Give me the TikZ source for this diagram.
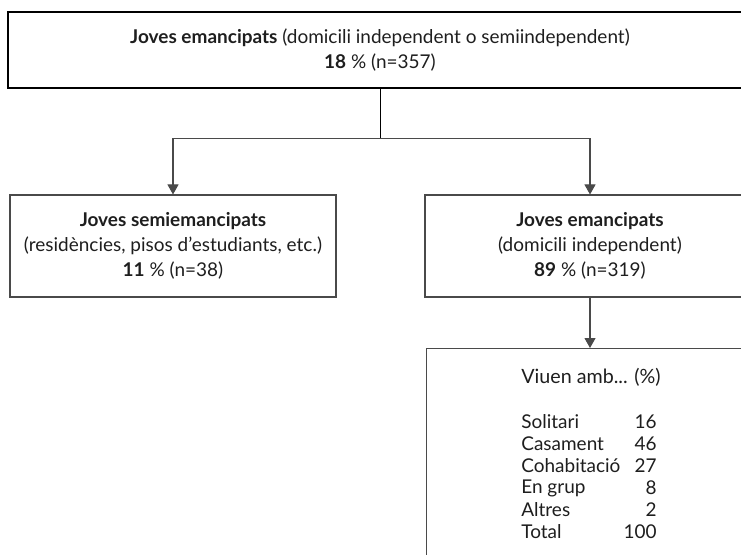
\documentclass[tikz,border=0pt]{standalone}
\usepackage{fontspec}
\setmainfont{Lato}
\usetikzlibrary{arrows.meta,positioning,calc}
\definecolor{boxgray}{HTML}{4A4A4A}
\definecolor{inkgray}{HTML}{1E1E1E}

\tikzset{
  mainbox/.style={draw=black, line width=1.1pt, minimum width=14.88cm, minimum height=1.52cm,
    align=center, inner sep=0pt, text=inkgray, font=\fontsize{10.8}{14.2}\selectfont},
  subbox/.style={draw=boxgray, line width=0.6pt, minimum height=2.04cm,
    align=center, inner sep=0pt, text=inkgray, font=\fontsize{10.8}{14.2}\selectfont},
  link/.style={draw=boxgray, line width=0.6pt},
  tip/.style={-{Triangle[width=0.22cm,length=0.2cm]}},
  cell/.style={inner sep=0pt, text=inkgray, font=\fontsize{10.8}{12}\selectfont},
}

\begin{document}
\begin{tikzpicture}
    \useasboundingbox (0, 0) rectangle (14.82, 11.08);

    % caixa principal
    \node[mainbox] (total) at (7.6, 10.08)
        {\textbf{Joves emancipats} (domicili independent o semiindependent)\\ \textbf{18} \% (n=357)};

    % dues branques
    \node[subbox, minimum width=6.52cm] (semi) at (3.46, 6.16)
        {\textbf{Joves semiemancipats}\\ (residències, pisos d'estudiants, etc.)\\ \textbf{11} \% (n=38)};
    \node[subbox, minimum width=6.6cm] (indep) at (11.8, 6.16)
        {\textbf{Joves emancipats}\\ (domicili independent)\\ \textbf{89} \% (n=319)};

    % caixa de convivència
    \node[draw=boxgray, line width=0.6pt, anchor=north west, minimum width=7cm, minimum height=5cm] (live) at (8.52, 4.12) {};

    % connectors
    \coordinate (split) at ($(total.south) + (0, -1)$);
    \draw[line width=0.5pt] (total.south) -- (split);
    \draw[link, tip] (split) -| (semi.north);
    \draw[link, tip] (split) -| (indep.north);
    \draw[link, tip] (indep.south) -- (indep.south |- live.north);

    % taula
    \node[cell, anchor=west, font=\fontsize{11.2}{12}\selectfont] (title) at (10.42, 3.54) {Viuen amb... (\%)};
    \foreach \lab/\val [count=\i] in {Solitari/16, Casament/46, Cohabitació/27, En grup/8, Altres/2, Total/100} {
        \node[cell, anchor=west] (lab\i) at (10.42, {2.64 - 0.44*(\i - 1)}) {\lab};
        \node[cell, anchor=east] (val\i) at (13.14, {2.64 - 0.44*(\i - 1)}) {\val};
    }
\end{tikzpicture}
\end{document}
